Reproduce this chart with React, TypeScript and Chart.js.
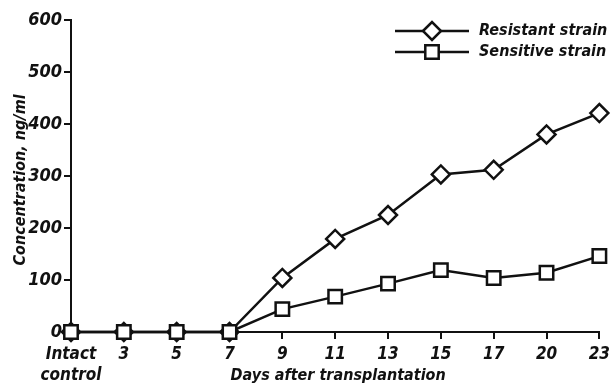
import React, { useEffect, useRef } from "react";
import { Chart, registerables } from "chart.js";

Chart.register(...registerables);

const categories: (string | string[])[] = [["Intact", "control"], "3", "5", "7", "9", "11", "13", "15", "17", "20", "23"];
const resistant = [0, 0, 0, 0, 104, 179, 225, 303, 312, 380, 421];
const sensitive = [0, 0, 0, 0, 44, 68, 93, 119, 104, 114, 146];
const yTicks = [0, 100, 200, 300, 400, 500, 600];
const legendLabels = ["Resistant strain", "Sensitive strain"];
const xTitle = "Days after transplantation";
const yTitle = "Concentration, ng/ml";

const FONT_FAMILY = "'DejaVu Sans Condensed', 'Liberation Sans', Arial, sans-serif";

export default function App() {
  const ref = useRef<HTMLCanvasElement>(null);

  useEffect(() => {
    document.body.style.margin = "0";
    const canvas = ref.current!;
    const overlay = {
      id: "overlay",
      afterDraw(chart: any) {
        const ctx = chart.ctx as CanvasRenderingContext2D;
        const area = chart.chartArea;
        ctx.save();
        ctx.fillStyle = "#111";
        ctx.font = `italic bold 16px ${FONT_FAMILY}`;
        // x title
        ctx.textAlign = "center";
        ctx.textBaseline = "middle";
        ctx.fillText(xTitle, (area.left + area.right) / 2 + 3, 376);
        // y title
        ctx.save();
        ctx.translate(21, 180);
        ctx.rotate(-Math.PI / 2);
        ctx.fillText(yTitle, 0, 0);
        ctx.restore();
        // legend
        const styles = ["rectRot", "rect"];
        const radii = [9, 9.5];
        const ys = [31, 52];
        ctx.textAlign = "left";
        for (let i = 0; i < 2; i++) {
          const y = ys[i];
          ctx.strokeStyle = "#111";
          ctx.lineWidth = 2.5;
          ctx.beginPath();
          ctx.moveTo(395, y);
          ctx.lineTo(469, y);
          ctx.stroke();
          ctx.fillStyle = "#fff";
          ctx.beginPath();
          if (styles[i] === "rectRot") {
            const r = radii[i];
            ctx.moveTo(432 - r, y);
            ctx.lineTo(432, y - r);
            ctx.lineTo(432 + r, y);
            ctx.lineTo(432, y + r);
            ctx.closePath();
          } else {
            const s = radii[i] * Math.SQRT1_2;
            ctx.rect(432 - s, y - s, 2 * s, 2 * s);
          }
          ctx.fill();
          ctx.stroke();
          ctx.fillStyle = "#111";
          ctx.textBaseline = "middle";
          ctx.fillText(legendLabels[i], 479, y);
        }
        ctx.restore();
      },
    };

    const chart = new Chart(canvas, {
      type: "line",
      data: {
        labels: categories,
        datasets: [
          {
            label: legendLabels[0],
            data: resistant,
            borderColor: "#111",
            backgroundColor: "#fff",
            borderWidth: 2.5,
            pointStyle: "rectRot",
            pointRadius: 9,
            pointBorderWidth: 2.5,
            pointBackgroundColor: "#fff",
            pointBorderColor: "#111",
            tension: 0,
            clip: false,
            order: 2,
          },
          {
            label: legendLabels[1],
            data: sensitive,
            borderColor: "#111",
            backgroundColor: "#fff",
            borderWidth: 2.5,
            pointStyle: "rect",
            pointRadius: 9.5,
            pointBorderWidth: 2.5,
            pointBackgroundColor: "#fff",
            pointBorderColor: "#111",
            tension: 0,
            clip: false,
            order: 1,
          },
        ],
      },
      options: {
        animation: false,
        responsive: false,
        maintainAspectRatio: false,
        layout: { padding: { left: 0, right: 11, top: 20, bottom: 0 } },
        plugins: { legend: { display: false }, tooltip: { enabled: false } },
        scales: {
          x: {
            type: "category",
            offset: false,
            afterFit: (s: any) => {
              s.height = 54;
            },
            grid: {
              drawOnChartArea: false,
              drawTicks: true,
              tickLength: 7,
              color: "#111",
              lineWidth: 2,
            },
            border: { display: true, color: "#111", width: 2 },
            ticks: {
              color: "#111",
              padding: 5,
              maxRotation: 0,
              autoSkip: false,
              font: { family: FONT_FAMILY, size: 17, style: "italic", weight: "bold", lineHeight: 1.25 },
            },
          },
          y: {
            min: 0,
            max: 600,
            afterFit: (s: any) => {
              s.width = 71;
            },
            afterBuildTicks: (s: any) => {
              s.ticks = yTicks.map((v) => ({ value: v }));
            },
            grid: {
              drawOnChartArea: false,
              drawTicks: true,
              tickLength: 7,
              color: "#111",
              lineWidth: 2,
            },
            border: { display: true, color: "#111", width: 2 },
            ticks: {
              color: "#111",
              padding: 2,
              font: { family: FONT_FAMILY, size: 18, style: "italic", weight: "bold" },
            },
          },
        },
      },
      plugins: [overlay],
    } as any);
    return () => chart.destroy();
  }, []);

  return (
    <div style={{ width: 615, height: 386 }}>
      <canvas ref={ref} width={615} height={386} style={{ width: 615, height: 386, display: "block" }} />
    </div>
  );
}
